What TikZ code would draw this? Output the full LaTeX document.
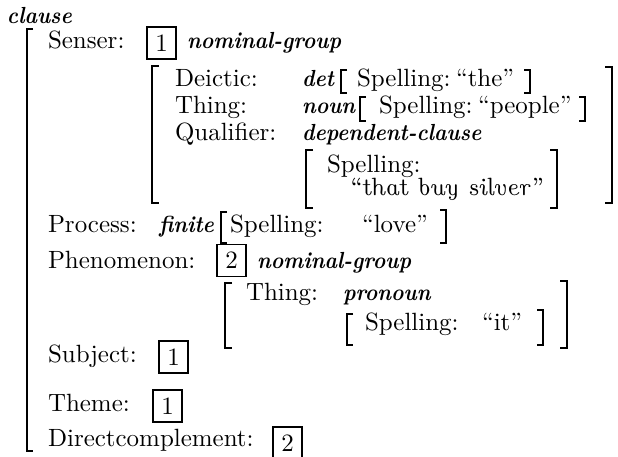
\documentclass[tikz,border=0pt]{standalone}
\begin{document}
\frenchspacing
% Feature structure of a clause, drawn on a pixel-like grid (y runs downwards)
\newcommand\openbr[5]{\draw[#1] (#2+#5,#3) -- (#2,#3) -- (#2,#4) -- (#2+#5,#4);}
\newcommand\closebr[5]{\draw[#1] (#2-#5,#3) -- (#2,#3) -- (#2,#4) -- (#2-#5,#4);}
\newcommand\unsl{\fontshape{ui}\selectfont}
% type names: bold italic, slightly condensed
\newcommand\ty[1]{\scalebox{0.91}[1]{\fontsize{9.7}{11.5}\selectfont\bfseries\itshape #1}}
\begin{tikzpicture}[x=0.4167pt,y=-0.4167pt,
  font=\fontsize{10.4}{12.5}\selectfont,
  lbl/.style={anchor=base west, inner sep=0pt, outer sep=0pt},
  numbox/.style={draw, line width=0.6pt, inner sep=0pt,
    minimum width=12pt, minimum height=13.4pt},
  outerbrk/.style={line width=1.2pt},
  midbrk/.style={line width=0.8pt},
  smallbrk/.style={line width=0.6pt}]
\clip (0,0) rectangle (618,456);

% outer clause bracket
\node[lbl] (clause) at (7,23) {\ty{clause}};
\openbr{outerbrk}{27}{29}{451}{6}

% Senser
\node[lbl] (senser) at (48,48) {Senser:};
\node[numbox] (b1) at (161.5,43) {1};
\node[lbl] (ng1) at (187,48) {\ty{nominal-group}};
\openbr{midbrk}{152}{66}{203}{7}
\closebr{midbrk}{612}{67}{203}{7}

\node[lbl] (deictic) at (175,86) {Deictic:};
\node[lbl] (det) at (302,86) {\ty{det}};
\openbr{smallbrk}{341}{70}{93}{6}
\node[lbl] (sp1) at (357,86) {Spelling:};
\node[lbl] (sp1v) at (456,86) {``the''};
\closebr{smallbrk}{530}{70}{93}{6}

\node[lbl] (thing1) at (175,113) {Thing:};
\node[lbl] (noun) at (302,113) {\ty{noun}};
\openbr{smallbrk}{360}{97}{121}{6}
\node[lbl] (sp2) at (379,113) {Spelling:};
\node[lbl] (sp2v) at (478,113) {``people''};
\closebr{smallbrk}{585}{97}{121}{6}

\node[lbl] (qual) at (175,140) {Qualifier:};
\node[lbl] (dep) at (302,140) {\ty{dependent-clause}};
\openbr{smallbrk}{306}{150}{208}{7}
\node[lbl] (sp3) at (327,172) {Spelling:};
\node[lbl] (sp3v) at (350,195) {\unsl ``that buy silver''};
\closebr{smallbrk}{557}{150}{208}{7}

% Process
\node[lbl] (proc) at (48,232) {Process:};
\node[lbl] (fin) at (159,232) {\ty{finite}};
\openbr{smallbrk}{221}{212}{243}{6}
\node[lbl] (sp4) at (230,232) {Spelling:};
\node[lbl] (sp4v) at (362,232) {``love''};
\closebr{smallbrk}{446}{210}{243}{6}

% Phenomenon
\node[lbl] (phen) at (48,268) {Phenomenon:};
\node[numbox] (b2) at (231.5,260.5) {2};
\node[lbl] (ng2) at (257,268) {\ty{nominal-group}};
\openbr{midbrk}{225}{283}{348}{7}
\closebr{midbrk}{567}{281}{348}{7}
\node[lbl] (thing2) at (246,300) {Thing:};
\node[lbl] (pron) at (343,300) {\ty{pronoun}};
\openbr{smallbrk}{347}{314}{345}{6}
\node[lbl] (sp5) at (365,330) {Spelling:};
\node[lbl] (sp5v) at (482,330) {``it''};
\closebr{smallbrk}{543}{310}{345}{6}

% reentrant features
\node[lbl] (subj) at (48,362) {Subject:};
\node[numbox] (b3) at (173.5,357) {1};
\node[lbl] (theme) at (48,411) {Theme:};
\node[numbox] (b4) at (167.5,406) {1};
\node[lbl] (dcomp) at (48,446) {Directcomplement:};
\node[numbox] (b5) at (287.5,443) {2};
\end{tikzpicture}
\end{document}
